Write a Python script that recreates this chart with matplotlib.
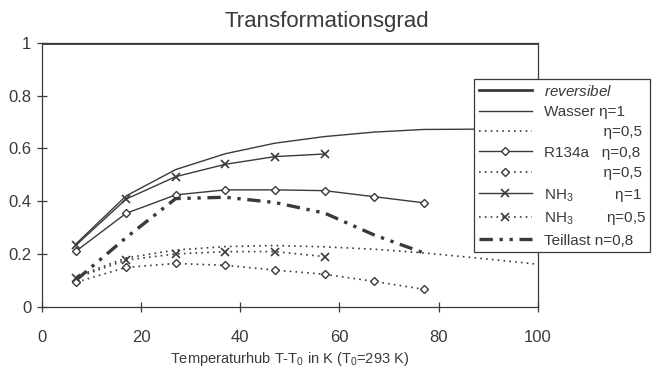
import matplotlib
matplotlib.use('Agg')
import matplotlib.pyplot as plt
import numpy as np

plt.rcParams['font.family'] = ['Liberation Sans', 'DejaVu Sans']
plt.rcParams['mathtext.fontset'] = 'custom'
plt.rcParams['mathtext.rm'] = 'Liberation Sans'
plt.rcParams['mathtext.it'] = 'Liberation Sans:italic'

# temperature lift T-T0 in K
x_rev = [0, 100]
x_w = [7, 17, 27, 37, 47, 57, 67, 77, 87, 97, 100]
x_r = [7, 17, 27, 37, 47, 57, 67, 77]
x_n = [7, 17, 27, 37, 47, 57]

reversibel = [1.0, 1.0]
wasser_1 = [0.24, 0.42, 0.52, 0.58, 0.62, 0.645, 0.662, 0.672, 0.673, 0.670, 0.668]
wasser_05 = [0.115, 0.185, 0.215, 0.228, 0.232, 0.227, 0.218, 0.204, 0.186, 0.167, 0.161]
r134a_08 = [0.212, 0.354, 0.424, 0.443, 0.443, 0.44, 0.417, 0.394]
r134a_05 = [0.093, 0.149, 0.164, 0.157, 0.139, 0.123, 0.096, 0.066]
nh3_1 = [0.235, 0.408, 0.493, 0.54, 0.569, 0.579]
nh3_05 = [0.11, 0.177, 0.2, 0.209, 0.209, 0.19]
teillast = [0.102, 0.262, 0.41, 0.415, 0.395, 0.355, 0.272, 0.204]

xticks = [0, 20, 40, 60, 80, 100]
yticks = [0, 0.2, 0.4, 0.6, 0.8, 1]
ytick_labels = ['0', '0.2', '0.4', '0.6', '0.8', '1']

c = '#3a3a3a'
sp = ' '

fig = plt.figure(figsize=(6.54, 3.70), dpi=100)
ax = fig.add_axes([0.0638, 0.171, 0.7588, 0.713])

ax.plot(x_rev, reversibel, color=c, lw=2.0, label='$\\it{reversibel}$')
ax.plot(x_w, wasser_1, color=c, lw=1.0, label='Wasser η=1')
ax.plot(x_w, wasser_05, color=c, lw=1.2, ls=(0, (1, 2.5)),
        label=sp * 14 + 'η=0,5')
ax.plot(x_r, r134a_08, color=c, lw=1.0, marker='D', ms=4.5, mfc='white',
        mec=c, mew=1.0, label='R134a' + sp * 3 + 'η=0,8')
ax.plot(x_r, r134a_05, color=c, lw=1.2, ls=(0, (1, 2.5)), marker='D', ms=4.5,
        mfc='white', mec=c, mew=1.0, label=sp * 14 + 'η=0,5')
ax.plot(x_n, nh3_1, color=c, lw=1.0, marker='x', ms=6, mew=1.2,
        label='NH$_3$' + sp * 10 + 'η=1')
ax.plot(x_n, nh3_05, color=c, lw=1.2, ls=(0, (1, 2.5)), marker='x', ms=6,
        mew=1.2, label='NH$_3$' + sp * 8 + 'η=0,5')
ax.plot(x_r, teillast, color=c, lw=2.4, ls=(0, (4, 2, 1, 2, 1, 2)),
        label='Teillast n=0,8')

ax.set_xlim(0, 100)
ax.set_ylim(0, 1)
ax.set_xticks(xticks)
ax.set_yticks(yticks)
ax.set_yticklabels(ytick_labels)
ax.tick_params(direction='inout', length=7, width=0.9, colors=c,
               labelsize=12)
ax.tick_params(axis='x', pad=13)
ax.tick_params(axis='y', pad=4)
for s in ax.spines.values():
    s.set_color(c)
    s.set_linewidth(0.9)

fig.suptitle('Transformationsgrad', fontsize=16, color=c, x=0.5,
             y=1 - 22 / 370, va='center')
ax.set_xlabel('Temperaturhub T-T$_0$ in K (T$_0$=293 K)', fontsize=10.5,
              color=c, labelpad=4)

leg = fig.legend(loc='upper left', bbox_to_anchor=(474 / 654, 1 - 79 / 370),
                 fontsize=11, frameon=True, fancybox=False, framealpha=1,
                 edgecolor=c, handlelength=3.5, handletextpad=0.75,
                 labelspacing=0.42, borderpad=0.3, borderaxespad=0)
leg.get_frame().set_linewidth(0.9)
for t in leg.get_texts():
    t.set_color(c)

fig.savefig('out.png', dpi=100)
